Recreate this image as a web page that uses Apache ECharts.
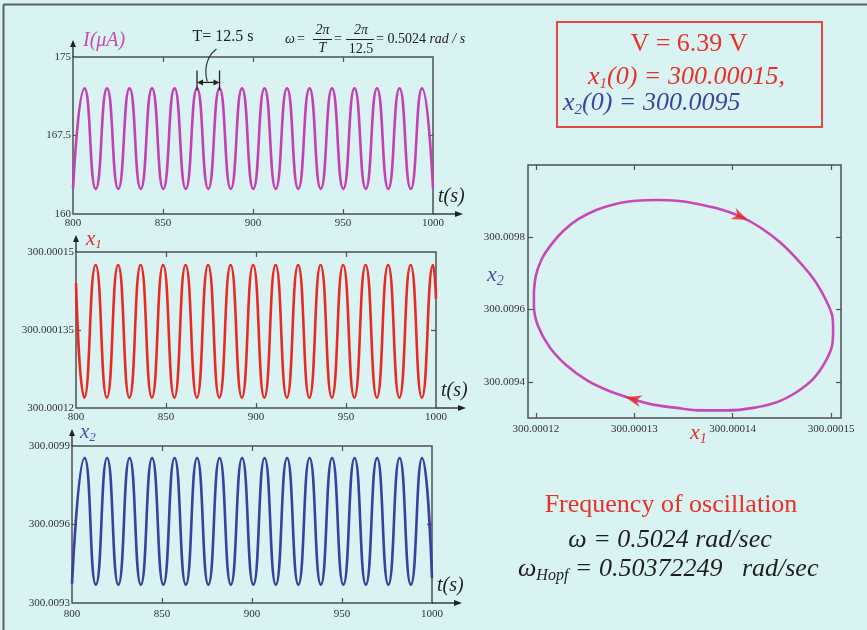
<!DOCTYPE html>
<html><head><meta charset="utf-8">
<script src="https://cdn.jsdelivr.net/npm/echarts@6/dist/echarts.min.js"></script>
<style>html,body{margin:0;padding:0;background:#d8f3f2;}#c{width:867px;height:630px;}</style>
</head><body><div id="c"></div>
<script>
// ---------- data ----------
const timeTicks = ['800', '850', '900', '950', '1000'];
const iTicks = ['160', '167.5', '175'];
const x1Ticks = ['300.00012', '300.000135', '300.00015'];
const x2Ticks = ['300.0093', '300.0096', '300.0099'];
const phaseXTicks = ['300.00012', '300.00013', '300.00014', '300.00015'];
const phaseYTicks = ['300.0094', '300.0096', '300.0098'];

// current I(µA) vs t: start, alternating peaks / troughs, end
const iTime = [800, 806.4, 812.65, 818.9, 825.15, 831.4, 837.65, 843.9, 850.15, 856.4, 862.65, 868.9, 875.15, 881.4, 887.65, 893.9, 900.15, 906.4, 912.65, 918.9, 925.15, 931.4, 937.65, 943.9, 950.15, 956.4, 962.65, 968.9, 975.15, 981.4, 987.65, 993.9, 1000];
const iValue = [162.45, 172.0, 162.4, 172.0, 162.4, 172.0, 162.4, 172.0, 162.4, 172.0, 162.4, 172.0, 162.4, 172.0, 162.4, 172.0, 162.4, 172.0, 162.4, 172.0, 162.4, 172.0, 162.4, 172.0, 162.4, 172.0, 162.4, 172.0, 162.4, 172.0, 162.4, 172.0, 162.45];

// x1 vs t
const x1Time = [800, 804.65, 810.9, 817.15, 823.4, 829.65, 835.9, 842.15, 848.4, 854.65, 860.9, 867.15, 873.4, 879.65, 885.9, 892.15, 898.4, 904.65, 910.9, 917.15, 923.4, 929.65, 935.9, 942.15, 948.4, 954.65, 960.9, 967.15, 973.4, 979.65, 985.9, 992.15, 998.4, 1000];
const x1Value = [300.000144, 300.000122, 300.0001475, 300.000122, 300.0001475, 300.000122, 300.0001475, 300.000122, 300.0001475, 300.000122, 300.0001475, 300.000122, 300.0001475, 300.000122, 300.0001475, 300.000122, 300.0001475, 300.000122, 300.0001475, 300.000122, 300.0001475, 300.000122, 300.0001475, 300.000122, 300.0001475, 300.000122, 300.0001475, 300.000122, 300.0001475, 300.000122, 300.0001475, 300.000122, 300.0001475, 300.000141];

// x2 vs t
const x2Time = [800, 807, 813.25, 819.5, 825.75, 832, 838.25, 844.5, 850.75, 857, 863.25, 869.5, 875.75, 882, 888.25, 894.5, 900.75, 907, 913.25, 919.5, 925.75, 932, 938.25, 944.5, 950.75, 957, 963.25, 969.5, 975.75, 982, 988.25, 994.5, 1000];
const x2Value = [300.009374, 300.009854, 300.00937, 300.009854, 300.00937, 300.009854, 300.00937, 300.009854, 300.00937, 300.009854, 300.00937, 300.009854, 300.00937, 300.009854, 300.00937, 300.009854, 300.00937, 300.009854, 300.00937, 300.009854, 300.00937, 300.009854, 300.00937, 300.009854, 300.00937, 300.009854, 300.00937, 300.009854, 300.00937, 300.009854, 300.00937, 300.009854, 300.009395];

// phase portrait x1-x2 (closed orbit, clockwise)
const orbitX1 = [300.0001198, 300.00012, 300.0001206, 300.0001216, 300.0001228, 300.0001243, 300.0001262, 300.0001282, 300.0001302, 300.0001323, 300.0001343, 300.0001363, 300.0001384, 300.0001408, 300.0001428, 300.0001448, 300.0001465, 300.0001482, 300.0001494, 300.0001501, 300.0001502, 300.0001501, 300.0001494, 300.0001482, 300.0001465, 300.0001445, 300.0001421, 300.0001394, 300.0001367, 300.0001343, 300.0001319, 300.0001299, 300.0001275, 300.0001252, 300.0001231, 300.0001214, 300.0001202, 300.0001198, 300.0001198];
const orbitX2 = [300.009648, 300.009694, 300.00974, 300.009781, 300.009818, 300.00985, 300.009876, 300.009893, 300.009901, 300.009903, 300.009901, 300.009893, 300.00988, 300.009857, 300.009827, 300.009786, 300.00974, 300.009685, 300.00963, 300.009584, 300.009547, 300.009501, 300.009455, 300.009409, 300.009372, 300.009344, 300.009328, 300.009321, 300.009321, 300.009328, 300.009337, 300.009352, 300.009374, 300.009404, 300.009446, 300.009496, 300.009556, 300.009611, 300.009648];
// direction arrows on the orbit
const arrowX1 = [300.0001408, 300.0001299];
const arrowX2 = [300.009857, 300.009352];

// ---------- drawing ----------
const SERIF = '"Liberation Serif", "Times New Roman", serif';
const BORDER = '#4d5252';
const LBL = { fontFamily: SERIF, fontSize: 11, color: '#333' };
const zip = (a, b) => a.map((v, i) => [v, b[i]]);
const nums = a => a.map(Number);
function labelFor(list) {
  return v => { let best = list[0], bd = Infinity; list.forEach(s => { const d = Math.abs(Number(s) - v); if (d < bd) { bd = d; best = s; } }); return best; };
}
function axis(gridIndex, position, min, max, labels, tickVals, showLabel, margin) {
  return {
    type: 'value', gridIndex, position, min, max,
    axisLine: { show: false }, splitLine: { show: false },
    axisTick: { show: true, inside: true, length: 5, customValues: tickVals, lineStyle: { color: BORDER, width: 1.2 } },
    axisLabel: Object.assign({ show: showLabel, customValues: nums(labels), formatter: labelFor(labels), margin: margin }, LBL)
  };
}
const grids = [
  { left: 73, top: 57, width: 360, height: 157 },
  { left: 76, top: 252, width: 360, height: 156 },
  { left: 72, top: 446, width: 360, height: 157 },
  { left: 528, top: 165, width: 313, height: 253 }
].map(g => Object.assign({ show: true, borderColor: BORDER, borderWidth: 1.5, backgroundColor: 'transparent', containLabel: false, outerBoundsMode: 'none' }, g));

const innerT = [850, 900, 950];
const xAxes = [
  axis(0, 'bottom', 800, 1000, timeTicks, innerT, true, 4),
  axis(1, 'bottom', 800, 1000, timeTicks, innerT, true, 4),
  axis(2, 'bottom', 800, 1000, timeTicks, innerT, true, 6),
  axis(3, 'bottom', 300.0001192, 300.000151, phaseXTicks, nums(phaseXTicks), true, 6),
  axis(0, 'top', 800, 1000, timeTicks, innerT, false, 4),
  axis(1, 'top', 800, 1000, timeTicks, innerT, false, 4),
  axis(2, 'top', 800, 1000, timeTicks, innerT, false, 4),
  axis(3, 'top', 300.0001192, 300.000151, phaseXTicks, nums(phaseXTicks), false, 4)
];
const yAxes = [
  axis(0, 'left', 160, 175, iTicks, [167.5], true, 2),
  axis(1, 'left', 300.00012, 300.00015, x1Ticks, [300.000135], true, 2),
  axis(2, 'left', 300.0093, 300.0099, x2Ticks, [300.0096], true, 2),
  axis(3, 'left', 300.0093, 300.01, phaseYTicks, nums(phaseYTicks), true, 3),
  axis(0, 'right', 160, 175, iTicks, [167.5], false, 2),
  axis(1, 'right', 300.00012, 300.00015, x1Ticks, [300.000135], false, 2),
  axis(2, 'right', 300.0093, 300.0099, x2Ticks, [300.0096], false, 2),
  axis(3, 'right', 300.0093, 300.01, phaseYTicks, nums(phaseYTicks), false, 3)
];

const lineSeries = (xi, data, color, smooth) => ({
  type: 'line', xAxisIndex: xi, yAxisIndex: xi, data, smooth, symbol: 'none', showSymbol: false,
  lineStyle: { color, width: 2.6 }, z: 3
});

const option = {
  animation: false,
  backgroundColor: '#d8f3f2',
  grid: grids, xAxis: xAxes, yAxis: yAxes,
  series: [
    lineSeries(0, zip(iTime, iValue), '#c440b4', 0.55),
    lineSeries(1, zip(x1Time, x1Value), '#ea2a22', 0.55),
    lineSeries(2, zip(x2Time, x2Value), '#3b3fa0', 0.55),
    lineSeries(3, zip(orbitX1, orbitX2), '#c848b8', 0.3),
    {
      type: 'scatter', xAxisIndex: 3, yAxisIndex: 3, z: 5,
      symbol: 'path://M0,0 L14,6 L0,12 L4,6 Z', symbolSize: [16, 12],
      itemStyle: { color: '#e8231f' },
      data: [
        { value: [arrowX1[0], arrowX2[0]], symbolRotate: -24 },
        { value: [arrowX1[1], arrowX2[1]], symbolRotate: 165 }
      ]
    }
  ]
};
const chart = echarts.init(document.getElementById('c'));
chart.setOption(option);

// ---------- text & decorations ----------
const ctx = document.createElement('canvas').getContext('2d');
const fontOf = p => (p.italic ? 'italic ' : '') + p.size + 'px ' + SERIF;
function mathLine(x, cy, parts, align, color) {
  const w = parts.map(p => { ctx.font = fontOf(p); return ctx.measureText(p.t).width; });
  const total = w.reduce((a, b) => a + b, 0);
  let cx = align === 'center' ? x - total / 2 : (align === 'right' ? x - total : x);
  return parts.map((p, i) => {
    const el = { type: 'text', x: cx, y: cy + (p.dy || 0), z: 10,
      style: { text: p.t, font: fontOf(p), fill: p.color || color, textAlign: 'left', textVerticalAlign: 'middle', verticalAlign: 'middle' } };
    cx += w[i];
    return el;
  });
}
const line = (x1, y1, x2, y2, color, width) => ({ type: 'line', z: 10, shape: { x1, y1, x2, y2 }, style: { stroke: color, lineWidth: width } });
const tri = (pts, color) => ({ type: 'polygon', z: 10, shape: { points: pts }, style: { fill: color } });
const G = [];
// frame
G.push(line(3.5, 4.5, 3.5, 630, '#5a5f5f', 2), line(3.5, 4.5, 867, 4.5, '#5a5f5f', 2));
// axis arrows
grids.slice(0, 3).forEach(g => {
  const ax = g.left, ay = g.top, bx = g.left + g.width, by = g.top + g.height;
  G.push(line(ax, ay, ax, ay - 12, '#222', 1.3), tri([[ax - 3, ay - 10], [ax + 3, ay - 10], [ax, ay - 17]], '#222'));
  G.push(line(bx, by, bx + 24, by, '#222', 1.3), tri([[bx + 22, by - 3], [bx + 22, by + 3], [bx + 30, by]], '#222'));
  G.push(...mathLine(bx + 5, by - 17, [{ t: 't(s)', size: 20, italic: true }], 'left', '#222'));
});
// y-labels of time plots
G.push(...mathLine(83, 41, [{ t: 'I(μA)', size: 20, italic: true }], 'left', '#c84ab8'));
G.push(...mathLine(86, 239, [{ t: 'x', size: 21, italic: true }, { t: '1', size: 13, italic: true, dy: 6 }], 'left', '#e0302c'));
G.push(...mathLine(80, 432, [{ t: 'x', size: 21, italic: true }, { t: '2', size: 13, italic: true, dy: 6 }], 'left', '#4a4fb0'));
// phase plot labels
G.push(...mathLine(487, 275, [{ t: 'x', size: 22, italic: true }, { t: '2', size: 14, italic: true, dy: 6 }], 'left', '#4a4fb0'));
G.push(...mathLine(690, 433, [{ t: 'x', size: 22, italic: true }, { t: '1', size: 14, italic: true, dy: 6 }], 'left', '#e0302c'));
// period annotation tied to two neighbouring peaks
const pA = chart.convertToPixel({ xAxisIndex: 0, yAxisIndex: 0 }, [iTime[11], iValue[11]]);
const pB = chart.convertToPixel({ xAxisIndex: 0, yAxisIndex: 0 }, [iTime[13], iValue[13]]);
const ya = pA[1] - 6;
G.push(line(pA[0], ya - 12, pA[0], ya + 8, '#222', 1.3), line(pB[0], ya - 12, pB[0], ya + 8, '#222', 1.3));
G.push(line(pA[0] + 4, ya, pB[0] - 4, ya, '#222', 1.3));
G.push(tri([[pA[0] + 6, ya - 3], [pA[0] + 6, ya + 3], [pA[0], ya]], '#222'), tri([[pB[0] - 6, ya - 3], [pB[0] - 6, ya + 3], [pB[0], ya]], '#222'));
G.push({ type: 'bezierCurve', z: 10, shape: { x1: 216.5, y1: 49, cpx1: 206, cpy1: 57, cpx2: 204, cpy2: 70, x2: (pA[0] + pB[0]) / 2 - 1, y2: ya - 1 }, style: { stroke: '#333', lineWidth: 1.2, fill: null } });
G.push(...mathLine(223, 37, [{ t: 'T= 12.5 s', size: 16 }], 'center', '#222'));
// omega formula
const DK = '#222';
G.push(...mathLine(290, 39, [{ t: 'ω', size: 14, italic: true }], 'center', DK));
G.push(...mathLine(301, 39, [{ t: '=', size: 14 }], 'center', DK));
G.push(...mathLine(322.5, 30, [{ t: '2π', size: 14, italic: true }], 'center', DK));
G.push(line(313, 39.5, 332, 39.5, DK, 1));
G.push(...mathLine(322.5, 48, [{ t: 'T', size: 14, italic: true }], 'center', DK));
G.push(...mathLine(338, 39, [{ t: '=', size: 14 }], 'center', DK));
G.push(...mathLine(361, 30, [{ t: '2π', size: 14, italic: true }], 'center', DK));
G.push(line(346, 39.5, 374, 39.5, DK, 1));
G.push(...mathLine(361, 49, [{ t: '12.5', size: 14 }], 'center', DK));
G.push(...mathLine(376, 39, [{ t: '= 0.5024 ', size: 14 }, { t: 'rad / s', size: 14, italic: true }], 'left', DK));
// parameter box
G.push({ type: 'rect', z: 10, shape: { x: 557, y: 22, width: 265, height: 105 }, style: { stroke: '#e34848', lineWidth: 2, fill: null } });
G.push(...mathLine(689, 44, [{ t: 'V = 6.39 V', size: 26 }], 'center', '#e8302a'));
G.push(...mathLine(588, 77, [{ t: 'x', size: 26, italic: true }, { t: '1', size: 15, italic: true, dy: 7 }, { t: '(0) = 300.00015,', size: 26, italic: true }], 'left', '#e8302a'));
G.push(...mathLine(563, 103, [{ t: 'x', size: 26, italic: true }, { t: '2', size: 15, italic: true, dy: 7 }, { t: '(0) = 300.0095', size: 26, italic: true }], 'left', '#3c44a8'));
// frequency text
G.push(...mathLine(671, 505, [{ t: 'Frequency of oscillation', size: 26 }], 'center', '#e8302a'));
G.push(...mathLine(670, 540, [{ t: 'ω = 0.5024 rad/sec', size: 26, italic: true }], 'center', '#1e1e1e'));
G.push(...mathLine(518, 569, [{ t: 'ω', size: 26, italic: true }, { t: 'Hopf', size: 16, italic: true, dy: 7 }, { t: ' = 0.50372249   rad/sec', size: 26, italic: true }], 'left', '#1e1e1e'));

chart.setOption({ graphic: { elements: G } });
</script>
</body></html>
